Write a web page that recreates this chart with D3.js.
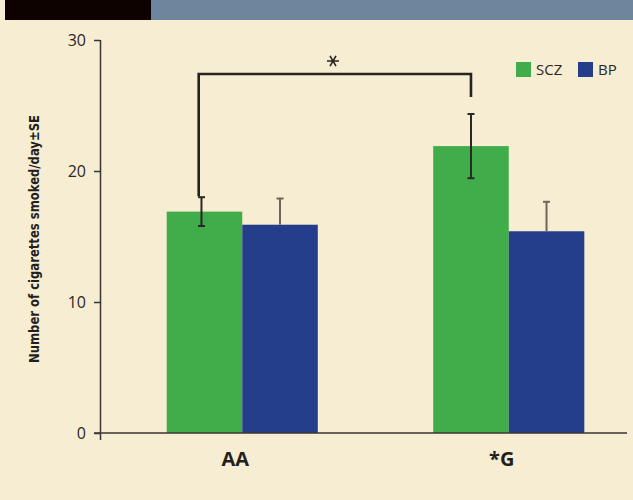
<!DOCTYPE html>
<html>
<head>
<meta charset="utf-8">
<script src="https://cdn.jsdelivr.net/npm/d3@7"></script>
<style>
  body { margin: 0; background: #f7edd2; }
  svg { display: block; font-family: "Open Sans", "Noto Sans", sans-serif; }
</style>
</head>
<body>
<div id="chart"></div>
<script>
let groups = ["AA", "*G"];
let series = ["SCZ", "BP"];
let sczMeans = [16.9, 21.9];
let sczSE = [1.1, 2.45];
let bpMeans = [15.9, 15.4];
let bpSE = [2.0, 2.25];
let yTicks = [0, 10, 20, 30];
let colors = { SCZ: "#41ad4a", BP: "#243e8c" };

let width = 633,
  height = 500;

let svg = d3
  .select("#chart")
  .append("svg")
  .attr("width", width)
  .attr("height", height);

svg.append("rect").attr("width", width).attr("height", height).attr("fill", "#f7edd2");

// header band
svg.append("rect").attr("x", 5).attr("y", 0).attr("width", 146).attr("height", 20).attr("fill", "#0e0200");
svg.append("rect").attr("x", 151).attr("y", 0).attr("width", width - 151).attr("height", 20).attr("fill", "#6e869d");

let yScale = d3.scaleLinear().domain([0, 30]).range([433, 40]);
let xScale = d3
  .scaleBand()
  .domain(groups)
  .range([109, 642])
  .paddingInner(0.433)
  .paddingOuter(0.2165);
let xSub = d3.scaleBand().domain(series).range([0, xScale.bandwidth()]);

// rows for bars
let rows = [];
groups.forEach((g, i) => {
  rows.push({ group: g, key: "SCZ", mean: sczMeans[i], se: sczSE[i] });
  rows.push({ group: g, key: "BP", mean: bpMeans[i], se: bpSE[i] });
});

let canvas = svg.append("g");

canvas
  .selectAll(".bar")
  .data(rows)
  .join("rect")
  .attr("class", "bar")
  .attr("x", (d) => xScale(d.group) + xSub(d.key))
  .attr("y", (d) => yScale(d.mean))
  .attr("width", xSub.bandwidth())
  .attr("height", (d) => yScale(0) - yScale(d.mean))
  .attr("fill", (d) => colors[d.key]);

// error bars (BP only shows the upper half)
let cx = (d) => xScale(d.group) + xSub(d.key) + xSub.bandwidth() / 2 - (d.group === "AA" && d.key === "SCZ" ? 3 : 0);
let errColor = (d) => (d.key === "SCZ" ? "#2a2724" : "#6e665a");
let errLow = (d) => (d.key === "SCZ" ? d.mean - d.se : d.mean);

let err = canvas.selectAll(".err").data(rows).join("g").attr("class", "err");
err
  .append("line")
  .attr("x1", cx)
  .attr("x2", cx)
  .attr("y1", (d) => yScale(d.mean + d.se))
  .attr("y2", (d) => yScale(errLow(d)))
  .attr("stroke", errColor)
  .attr("stroke-width", 2);
err
  .append("line")
  .attr("x1", (d) => cx(d) - 3.5)
  .attr("x2", (d) => cx(d) + 3.5)
  .attr("y1", (d) => yScale(d.mean + d.se))
  .attr("y2", (d) => yScale(d.mean + d.se))
  .attr("stroke", errColor)
  .attr("stroke-width", 2);
err
  .filter((d) => d.key === "SCZ")
  .append("line")
  .attr("x1", (d) => cx(d) - 3.5)
  .attr("x2", (d) => cx(d) + 3.5)
  .attr("y1", (d) => yScale(d.mean - d.se))
  .attr("y2", (d) => yScale(d.mean - d.se))
  .attr("stroke", errColor)
  .attr("stroke-width", 2);

// axes
let yAxis = d3.axisLeft(yScale).tickValues(yTicks).tickSize(6).tickSizeOuter(0).tickPadding(8);
let yAxisEl = svg.append("g").attr("transform", "translate(100,0)").call(yAxis);
yAxisEl.select(".domain").remove();
yAxisEl.selectAll(".tick line").attr("stroke", "#3a3633").attr("stroke-width", 1.5);
yAxisEl
  .selectAll(".tick text")
  .attr("fill", "#2b2725")
  .style("font-size", "16px")
  .style("font-family", "Open Sans, sans-serif");

svg
  .append("line")
  .attr("x1", 100.5)
  .attr("x2", 100.5)
  .attr("y1", yScale(30))
  .attr("y2", yScale(0) + 7)
  .attr("stroke", "#3a3633")
  .attr("stroke-width", 1.5);

svg
  .append("line")
  .attr("x1", 94)
  .attr("x2", 627)
  .attr("y1", yScale(0))
  .attr("y2", yScale(0))
  .attr("stroke", "#3a3633")
  .attr("stroke-width", 1.5);

// x labels
svg
  .selectAll(".xlab")
  .data(groups)
  .join("text")
  .attr("class", "xlab")
  .attr("x", (d) => xScale(d) + xScale.bandwidth() / 2 - 7)
  .attr("y", 466)
  .attr("text-anchor", "middle")
  .attr("fill", "#231f1d")
  .style("font-size", "20px")
  .style("font-weight", "bold")
  .text((d) => d);

// y label
svg
  .append("text")
  .attr("transform", "translate(39,239) rotate(-90)")
  .attr("text-anchor", "middle")
  .attr("fill", "#231f1d")
  .attr("textLength", 248)
  .attr("lengthAdjust", "spacingAndGlyphs")
  .style("font-size", "14px")
  .style("font-weight", "bold")
  .style("font-family", "'Liberation Sans Narrow', 'DejaVu Sans Condensed', sans-serif")
  .text("Number of cigarettes smoked/day±SE");

// significance bracket
let xa = xScale("AA") + 32,
  xg = cx(rows[2]);
let yTop = 74;
svg
  .append("path")
  .attr(
    "d",
    "M" + xa + "," + (yScale(sczMeans[0] + sczSE[0]) - 1) +
      "V" + yTop + "H" + xg + "V" + 97
  )
  .attr("fill", "none")
  .attr("stroke", "#262321")
  .attr("stroke-width", 2.6);

svg
  .append("path")
  .attr("d", d3.symbol(d3.symbolAsterisk, 100)())
  .attr("transform", "translate(" + 333 + ",61) rotate(90)")
  .attr("fill", "none")
  .attr("stroke", "#262321")
  .attr("stroke-width", 1.6);

// legend
let legend = svg
  .selectAll(".leg")
  .data(series)
  .join("g")
  .attr("class", "leg")
  .attr("transform", (d, i) => "translate(" + (516 + i * 62) + ",62)");
legend
  .append("rect")
  .attr("width", 15)
  .attr("height", 15)
  .attr("fill", (d) => colors[d]);
legend
  .append("text")
  .attr("x", 20)
  .attr("y", 13)
  .attr("fill", "#2b2725")
  .style("font-size", "15px")
  .text((d) => d);
</script>
</body>
</html>
